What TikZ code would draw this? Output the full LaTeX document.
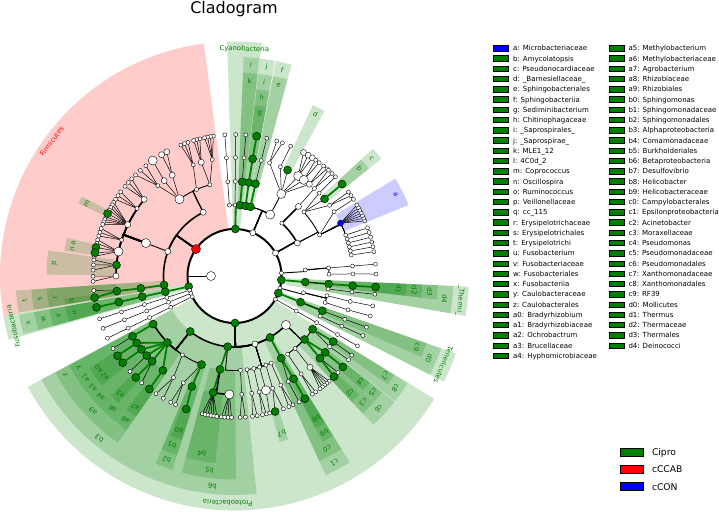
\documentclass[tikz,border=0pt]{standalone}
\usepackage{fontspec}
\setmainfont{DejaVu Sans}
\usetikzlibrary{calc}
\definecolor{cipro}{RGB}{0,128,0}
\definecolor{ccab}{RGB}{255,0,0}
\definecolor{ccon}{RGB}{0,0,255}
\pgfdeclarelayer{bands}
\pgfdeclarelayer{edges}
\pgfsetlayers{bands,edges,main}
\tikzset{
  dot/.style={circle,draw=black,line width=0.4pt,inner sep=0pt},
  wn/.style={dot,fill=white,minimum size=4pt},
  wm/.style={dot,fill=white,minimum size=6pt},
  wl/.style={dot,fill=white,minimum size=9pt},
  gn/.style={dot,fill=cipro,minimum size=8pt},
  rn/.style={dot,fill=ccab,minimum size=9pt},
  bn/.style={dot,fill=ccon,minimum size=6pt},
  lw1/.style={draw=black,line width=0.5pt},
  lw2/.style={draw=black,line width=0.9pt},
  lw3/.style={draw=black,line width=1.6pt},
  glk/.style={draw=cipro,line width=1.8pt},
  tag/.style={font=\fontsize{6.8}{7}\selectfont,inner sep=0pt},
  key/.style={font=\fontsize{7}{8}\selectfont,inner sep=0pt,anchor=base west},
  bigkey/.style={font=\fontsize{9.2}{10}\selectfont,inner sep=0pt,anchor=base west},
  swatch/.style={draw=black,line width=0.7pt},
}
% node at (angle:radius), radius in pixels
\newcommand{\clade}[4]{\node[#4] (#1) at (#2:#3) {};}
\newcommand{\twig}[3][lw1]{\draw[#1] (#2) -- (#3);}
% radial step out to the child's ring, then along the ring
\newcommand{\bough}[3][lw2]{\draw[#1] let \p1=(#2.center),\p2=(#3.center),
  \n1={atan2(\y1,\x1)},\n2={atan2(\y2,\x2)},\n3={veclen(\x2,\y2)},
  \n4={\n1+mod(\n2-\n1+540,360)-180} in
  (#2.center) -- (\n1:\n3) arc[start angle=\n1,end angle=\n4,radius=\n3];}
\newcommand{\leaves}[3]{\foreach \a [count=\i] in {#2}{\clade{#1-\i}{\a}{141.5}{#3}
  \begin{pgfonlayer}{edges}\twig{#1}{#1-\i}\end{pgfonlayer}}}
\newcommand{\band}[5]{\fill[#5,fill opacity=0.2] (#1:#3) arc[start angle=#1,end angle=#2,radius=#3pt]
  -- (#2:#4) arc[start angle=#2,end angle=#1,radius=#4pt] -- cycle;}
\newcommand{\tagit}[5]{\node[tag,text=#5,rotate=#2-90] (#1) at (#2:#3) {#4};}

\begin{document}
\begin{tikzpicture}[x=1pt,y=1pt]
\useasboundingbox (-234.5,-235) rectangle (484.5,276);

\node[font=\fontsize{16}{18}\selectfont,anchor=base] (title) at (-0.5,262) {Cladogram};

% highlighted clades
\begin{pgfonlayer}{bands}
\band{97.5}{189.8}{47}{234.5}{ccab}
\band{152.5}{155.1}{141.5}{172}{cipro}
\band{167.2}{169.4}{141.5}{172}{cipro}
\band{169.4}{171.6}{141.5}{172}{cipro}
\band{172.2}{179.6}{118.5}{188}{cipro}
\band{183.8}{189.6}{71}{219}{cipro}
\band{183.8}{189.6}{94.5}{203.5}{cipro}
\band{183.8}{189.6}{118.5}{188}{cipro}
\band{187.6}{189.6}{141.5}{172}{cipro}
\band{189.8}{195.8}{47}{234.5}{cipro}
\band{190.2}{195.4}{71}{219}{cipro}
\band{190.2}{195.4}{94.5}{203.5}{cipro}
\band{190.2}{195.4}{118.5}{188}{cipro}
\band{190.2}{195.4}{141.5}{172}{cipro}
\band{83.3}{91.8}{47}{234.5}{cipro}
\band{83.5}{87.6}{71}{219}{cipro}
\band{83.5}{87.6}{94.5}{203.5}{cipro}
\band{79.3}{83.3}{71}{219}{cipro}
\band{79.3}{83.3}{94.5}{203.5}{cipro}
\band{79.3}{83.3}{118.5}{188}{cipro}
\band{79.3}{83.3}{141.5}{172}{cipro}
\band{74.9}{79.1}{71}{219}{cipro}
\band{74.9}{79.1}{94.5}{203.5}{cipro}
\band{61.4}{65.4}{118.5}{188}{cipro}
\band{38.6}{42.6}{118.5}{188}{cipro}
\band{38.6}{42.6}{141.5}{172}{cipro}
\band{22.2}{31.2}{118.5}{188}{ccon}
\band{-9.8}{-2.6}{47}{234.5}{cipro}
\band{-9.8}{-2.6}{71}{219}{cipro}
\band{-6.6}{-2.6}{94.5}{203.5}{cipro}
\band{-6.6}{-2.6}{118.5}{188}{cipro}
\band{-6.6}{-2.6}{141.5}{172}{cipro}
\band{-26.8}{-19.3}{47}{234.5}{cipro}
\band{-26.8}{-19.3}{71}{219}{cipro}
\band{-23.4}{-19.3}{94.5}{203.5}{cipro}
\band{-151.8}{-31.6}{47}{234.5}{cipro}
\band{-151.8}{-107.8}{71}{219}{cipro}
\band{-151.6}{-147.6}{94.5}{203.5}{cipro}
\band{-151.6}{-147.6}{118.5}{188}{cipro}
\band{-147.6}{-125}{94.5}{203.5}{cipro}
\band{-147.6}{-143.7}{118.5}{188}{cipro}
\band{-147.6}{-143.7}{141.5}{172}{cipro}
\band{-143.7}{-139.8}{118.5}{188}{cipro}
\band{-143.7}{-140.5}{141.5}{172}{cipro}
\band{-139.8}{-135.9}{118.5}{188}{cipro}
\band{-135.9}{-129.4}{118.5}{188}{cipro}
\band{-135.9}{-132.4}{141.5}{172}{cipro}
\band{-129.2}{-125}{118.5}{188}{cipro}
\band{-129.2}{-125}{141.5}{172}{cipro}
\band{-112.8}{-107.8}{94.5}{203.5}{cipro}
\band{-112.8}{-107.8}{118.5}{188}{cipro}
\band{-111.8}{-107.8}{141.5}{172}{cipro}
\band{-107.8}{-84.2}{71}{219}{cipro}
\band{-105}{-89.6}{94.5}{203.5}{cipro}
\band{-105}{-95.8}{118.5}{188}{cipro}
\band{-74.8}{-71.8}{141.5}{172}{cipro}
\band{-65.4}{-58.3}{71}{219}{cipro}
\band{-65.4}{-58.3}{94.5}{203.5}{cipro}
\band{-62}{-58.3}{118.5}{188}{cipro}
\band{-62}{-58.3}{141.5}{172}{cipro}
\band{-37.9}{-31.8}{94.5}{203.5}{cipro}
\band{-35.3}{-31.8}{118.5}{188}{cipro}
\band{-47}{-38.2}{94.5}{203.5}{cipro}
\band{-41.8}{-38.2}{118.5}{188}{cipro}
\band{-41.8}{-38.2}{141.5}{172}{cipro}
\band{-47}{-42}{118.5}{188}{cipro}
\band{-47}{-43.6}{141.5}{172}{cipro}
\end{pgfonlayer}

% Firmicutes
\clade{fi}{145}{47}{rn}
\clade{baci}{116.2}{71}{wm}
\clade{clos}{159.8}{71}{wm}
\clade{Lt}{187.3}{71}{gn}
\clade{Ls}{187.5}{94.5}{gn}
\clade{Lr}{187.3}{118.5}{gn}
\clade{Lq}{188.8}{141.5}{gn}
\clade{rx}{185.9}{141.5}{wn}
\clade{bo1}{105.1}{94.5}{wn}
\clade{bo2}{113.7}{94.5}{wn}
\clade{bo3}{125.6}{94.5}{wl}
\clade{bf1}{100.8}{118.5}{wn}
\clade{bf2}{106.3}{118.5}{wm}
\clade{bf3}{110.4}{118.5}{wn}
\clade{bf4}{121.7}{118.5}{wm}
\clade{bf5}{126.4}{118.5}{wm}
\clade{bf6}{130.3}{118.5}{wn}
\leaves{bf1}{98.6,99.8,101,102.2}{wn}
\leaves{bf2}{104.2,105.5,106.8}{wn}
\leaves{bf3}{109.2,110.7,112.3}{wn}
\leaves{bf4}{118.6,121}{wm}
\leaves{bf5}{125.3}{wl}
\leaves{bf6}{128.8,131.7,134.4}{wn}
\clade{co1}{159.6}{94.5}{wl}
\clade{cf1}{139.7}{118.5}{wm}
\clade{cf2}{145.3}{118.5}{wn}
\clade{cf3}{154.3}{118.5}{wm}
\clade{cf4}{162.3}{118.5}{wn}
\clade{cf5}{168.1}{118.5}{wl}
\clade{Lp}{174.7}{118.5}{gn}
\clade{cf6}{180}{118.5}{wm}
\leaves{cf1}{136.6,138.6,140.7}{wn}
\leaves{cf2}{143.5,145.4,147.2}{wn}
\leaves{cf3}{148.6,149.8,151,152.2,155.3,156.4,157.5,158.6}{wn}
\clade{Lm}{153.8}{141.5}{gn}
\leaves{cf4}{160.4,162,163.6}{wn}
\leaves{cf5}{165.2,166.6,172}{wn}
\clade{Lo}{168.3}{141.5}{gn}
\clade{Ln}{170.5}{141.5}{gn}
\leaves{Lp}{173.5,175.5,177.6}{wn}
\leaves{cf6}{180.1,182.2}{wn}

% Fusobacteria
\clade{fu}{193}{47}{gn}
\clade{Lx}{192.8}{71}{gn}
\clade{Lw}{192.7}{94.5}{gn}
\clade{Lv}{192.7}{118.5}{gn}
\clade{Lu}{192.8}{141.5}{gn}

% small phyla with one lineage
\foreach \nm/\ang in {pa/197.6,pb/201.7,pc/206.1,pd/-29.6}{
  \clade{\nm1}{\ang}{47}{wn}\clade{\nm2}{\ang}{71}{wn}\clade{\nm3}{\ang}{94.5}{wn}
  \clade{\nm4}{\ang}{118.5}{wn}\clade{\nm5}{\ang}{141.5}{wn}}
\clade{inn}{180}{23.5}{wl}
\coordinate (innc) at (180:47);

% Cyanobacteria
\clade{cy}{89}{47}{gn}
\clade{cy1}{94.2}{71}{wn}\clade{cy1b}{94.1}{94.5}{wn}\clade{cy1c}{93.9}{118.5}{wn}\clade{cy1d}{93.9}{141.5}{wn}
\clade{cy2}{89.5}{71}{wn}\clade{cy2b}{89.5}{94.5}{wn}\clade{cy2c}{89.5}{118.5}{wn}\clade{cy2d}{89.5}{141.5}{wn}
\clade{Ll}{85.5}{71}{gn}\clade{Lk}{85.3}{94.5}{gn}\clade{k3}{85.4}{118.5}{wn}\clade{k4}{85.4}{141.5}{wn}

% Bacteroidetes
\clade{bac}{67}{47}{wm}
\clade{Lj}{81}{71}{gn}\clade{Li}{81.3}{94.5}{gn}\clade{Lh}{81.2}{118.5}{gn}\clade{Lg}{81}{141.5}{gn}
\clade{Lf}{77}{71}{gn}\clade{Le}{77.2}{94.5}{gn}\clade{e3}{77}{118.5}{wn}\clade{e4}{76.8}{141.5}{wn}
\clade{bcd}{59.8}{71}{wl}
\clade{bdo}{60.3}{94.5}{wl}
\clade{bdf1}{72.8}{118.5}{wn}
\clade{bdf2}{67.2}{118.5}{wn}
\clade{Ld}{63.4}{118.5}{gn}
\clade{bdf3}{57.5}{118.5}{wl}
\clade{bdf4}{54.2}{118.5}{wl}
\clade{bdf5}{50.8}{118.5}{wm}
\leaves{bdf1}{72.6,70.2}{wn}
\leaves{bdf2}{66.6}{wn}
\leaves{bdf3}{60.8,58.6,56.6}{wm}
\leaves{bdf4}{55,53.2}{wn}
\leaves{bdf5}{51,49.2}{wn}

% Actinobacteria
\clade{act}{29.3}{47}{wm}
\clade{ac1}{27.7}{71}{wm}
\clade{ac2}{48.1}{71}{wn}
\clade{ao4}{47.4}{94.5}{wm}
\clade{af0}{47.6}{118.5}{wn}
\leaves{af0}{48.4,46.4}{wn}
\clade{ao1}{42.7}{94.5}{wn}
\clade{ao2}{25.8}{94.5}{wn}
\clade{Lc}{40.6}{118.5}{gn}
\clade{Lb}{40.5}{141.5}{gn}
\clade{af1}{36.6}{118.5}{wn}
\clade{af2}{44.4}{118.5}{wn}
\leaves{af1}{36.4,34.6}{wn}
\leaves{af2}{44.5}{wn}
\clade{La}{26.5}{118.5}{bn}
\leaves{La}{22.9,24.1,25.3,26.5,27.7,28.9,30.1}{wn}
\clade{af3}{32.8}{118.5}{wn}
\leaves{af3}{32.8}{wn}
\foreach \ang [count=\i] in {20.2,18.2,16.2,14.2,12.2,10.2}{
  \clade{cm\i}{\ang}{118.5}{wn}\clade{cg\i}{\ang-0.3}{141.5}{wn}}

% phylum near 0 degrees
\clade{ph2}{3.6}{47}{wn}
\clade{p2c}{4.9}{71}{wn}
\clade{p2o1}{4.9}{94.5}{wn}\clade{p2f1}{4.8}{118.5}{wn}\clade{p2g1}{4.8}{141.5}{wn}
\clade{p2o2}{1.1}{94.5}{wn}\clade{p2f2}{1}{118.5}{wn}\clade{p2g2}{0.8}{141.5}{wn}

% Thermi
\clade{th}{-4.9}{47}{gn}
\clade{Ld4}{-4.9}{71}{gn}\clade{Ld3}{-4.9}{94.5}{gn}\clade{Ld2}{-4.7}{118.5}{gn}\clade{Ld1}{-4.5}{141.5}{gn}
\clade{tho}{-7.9}{94.5}{wn}\clade{thf}{-7.7}{118.5}{wn}\clade{thg}{-7.4}{141.5}{wn}

\clade{ph3}{-15}{47}{wn}
\clade{p3c}{-13.6}{71}{wn}
\clade{p3o1}{-12}{94.5}{wn}\clade{p3f1}{-12.4}{118.5}{wn}\clade{p3g1}{-12.2}{141.5}{wn}
\clade{p3o2}{-16.3}{94.5}{wn}\clade{p3f2}{-16.6}{118.5}{wn}\clade{p3g2}{-16.4}{141.5}{wn}

% Tenericutes
\clade{te}{-21.3}{47}{gn}
\clade{Ld0}{-21.6}{71}{gn}\clade{Lc9}{-21.6}{94.5}{gn}\clade{tef}{-21.4}{118.5}{wn}\clade{teg}{-21.2}{141.5}{wn}
\clade{teo}{-25.1}{94.5}{wn}\clade{tef2}{-25}{118.5}{wn}\clade{teg2}{-24.9}{141.5}{wn}

% Proteobacteria
\clade{pr}{-89.4}{47}{gn}
\clade{Lb3}{-128.6}{71}{gn}
\clade{Lb6}{-95.5}{71}{gn}
\clade{del}{-73.2}{71}{wm}
\clade{Lc1}{-59.9}{71}{gn}
\clade{gam}{-43.6}{71}{wl}
\clade{Lz}{-149.4}{94.5}{gn}\clade{Ly}{-149.4}{118.5}{gn}\clade{yl}{-149.2}{141.5}{wn}
\clade{La9}{-135.2}{94.5}{gn}
\clade{La1}{-145.6}{118.5}{gn}\clade{La0}{-145.7}{141.5}{gn}
\clade{La3}{-141.7}{118.5}{gn}\clade{La2}{-142.2}{141.5}{gn}
\clade{La4}{-137.8}{118.5}{gn}\clade{a4l}{-137.6}{141.5}{wn}
\clade{La6}{-134}{118.5}{gn}\clade{La5}{-134.2}{141.5}{gn}\clade{a6l}{-131}{141.5}{wn}
\clade{La8}{-127.2}{118.5}{gn}\clade{La7}{-127}{141.5}{gn}
\clade{ao3}{-123.5}{94.5}{wn}\clade{af5}{-121}{118.5}{wn}
\leaves{af5}{-123.7,-120.2}{wn}
\clade{Lb2}{-110.4}{94.5}{gn}\clade{Lb1}{-111.1}{118.5}{gn}\clade{Lb0}{-110}{141.5}{gn}
\clade{af6}{-115.6}{118.5}{wn}
\leaves{af6}{-114.6,-116.8}{wn}
\clade{Lb5}{-98.8}{94.5}{gn}
\clade{Lb4}{-100.4}{118.5}{gn}
\leaves{Lb4}{-103.2,-102,-100.8,-99.6,-98.4,-97.2}{wn}
\clade{bf7}{-92.5}{118.5}{wl}
\leaves{bf7}{-95.4,-94,-92.6,-91.2}{wn}
\clade{bo4}{-86.4}{94.5}{wn}\clade{bf8}{-86.5}{118.5}{wn}
\leaves{bf8}{-87.7,-85.6}{wn}
\clade{do1}{-82.4}{94.5}{wn}\clade{df1}{-81.6}{118.5}{wn}
\leaves{df1}{-82.7,-80.8}{wn}
\clade{do2}{-78.2}{94.5}{wn}\clade{df2}{-78}{118.5}{wn}
\leaves{df2}{-78.6,-77}{wn}
\clade{do3}{-74.6}{94.5}{wn}\clade{df3}{-74.6}{118.5}{wl}
\leaves{df3}{-75.6}{wn}
\clade{do4}{-70.6}{94.5}{wn}\clade{df4}{-71.2}{118.5}{wn}
\clade{Lb7}{-73.3}{141.5}{gn}
\leaves{df4}{-69.8}{wn}
\clade{do5}{-67.2}{94.5}{wn}\clade{df5}{-67}{118.5}{wn}
\leaves{df5}{-67.4,-65.6}{wn}
\clade{Lc0}{-60.4}{94.5}{gn}\clade{Lb9}{-60.1}{118.5}{gn}\clade{Lb8}{-60.2}{141.5}{gn}
\clade{ef5}{-63}{118.5}{wn}\clade{ef6}{-62.8}{141.5}{wn}
\clade{Lc8}{-34.3}{94.5}{gn}
\clade{Lc7}{-33.6}{118.5}{gn}\clade{c7l}{-34}{141.5}{wn}
\clade{gf1}{-36.6}{118.5}{wn}\clade{gf1l}{-36.3}{141.5}{wn}
\clade{Lc6}{-42.2}{94.5}{gn}
\clade{Lc5}{-40.1}{118.5}{gn}\clade{Lc4}{-40}{141.5}{gn}
\clade{Lc3}{-43.9}{118.5}{gn}\clade{Lc2}{-45.3}{141.5}{gn}\clade{c3l}{-43}{141.5}{wn}
\clade{go3}{-50.1}{94.5}{wn}\clade{gf2}{-50.4}{118.5}{wm}
\leaves{gf2}{-48,-49.2,-50.4,-51.6,-52.8}{wn}
\clade{go4}{-55.8}{94.5}{wn}\clade{gf3}{-55.8}{118.5}{wn}
\leaves{gf3}{-55,-56.6}{wn}

% branches
\begin{pgfonlayer}{edges}
\draw[draw=black,line width=2pt] (0,0) circle[radius=47pt];
\bough[lw3]{fi}{baci}\bough[lw3]{fi}{clos}\bough[lw3]{fi}{Lt}
\bough{baci}{bo1}\bough{baci}{bo2}\bough{baci}{bo3}
\twig{bo1}{bf1}\twig{bo1}{bf2}\twig{bo2}{bf3}\twig{bo3}{bf4}\twig{bo3}{bf5}\twig{bo3}{bf6}
\twig[lw2]{clos}{co1}
\bough[lw3]{co1}{cf1}\bough[lw3]{co1}{cf2}\bough[lw3]{co1}{cf3}\bough[lw3]{co1}{cf4}
\bough[lw3]{co1}{cf5}\bough[lw3]{co1}{Lp}\bough[lw3]{co1}{cf6}
\twig{cf3}{Lm}\twig{cf5}{Lo}\twig{cf5}{Ln}
\twig[glk]{Lt}{Ls}\twig[glk]{Ls}{Lr}\twig[glk]{Lr}{Lq}\twig{Lr}{rx}
\twig[glk]{fu}{Lx}\twig[glk]{Lx}{Lw}\twig[glk]{Lw}{Lv}\twig[glk]{Lv}{Lu}
\foreach \nm in {pa,pb,pc,pd}{\twig{\nm1}{\nm2}\twig{\nm2}{\nm3}\twig{\nm3}{\nm4}\twig{\nm4}{\nm5}}
\twig{innc}{inn}
\bough{cy}{cy1}\bough{cy}{cy2}\bough[glk]{cy}{Ll}
\twig{cy1}{cy1b}\twig{cy1b}{cy1c}\twig{cy1c}{cy1d}
\twig{cy2}{cy2b}\twig{cy2b}{cy2c}\twig{cy2c}{cy2d}
\twig[glk]{Ll}{Lk}\twig{Lk}{k3}\twig{k3}{k4}
\bough{bac}{Lj}\bough{bac}{Lf}\bough[lw3]{bac}{bcd}
\twig[glk]{Lj}{Li}\twig[glk]{Li}{Lh}\twig[glk]{Lh}{Lg}
\twig[glk]{Lf}{Le}\twig{Le}{e3}\twig{e3}{e4}
\twig[lw2]{bcd}{bdo}
\twig{bdo}{bdf1}\twig{bdo}{bdf2}\twig{bdo}{Ld}\twig{bdo}{bdf3}\twig{bdo}{bdf4}\twig{bdo}{bdf5}
\bough{act}{ac1}\bough[lw3]{act}{ac2}
\twig[lw3]{ac2}{ao4}\twig{ao4}{af0}
\bough{ac1}{ao1}\bough{ac1}{ao2}
\twig{ao1}{Lc}\twig[glk]{Lc}{Lb}\twig{ao1}{af1}\twig{ao1}{af2}
\twig{ao2}{La}\twig{ao2}{af3}
\foreach \i in {1,...,6}{\bough[lw1]{ao2}{cm\i}\twig{cm\i}{cg\i}}
\bough{ph2}{p2c}\bough{p2c}{p2o1}\bough{p2c}{p2o2}
\twig{p2o1}{p2f1}\twig{p2f1}{p2g1}\twig{p2o2}{p2f2}\twig{p2f2}{p2g2}
\twig[glk]{th}{Ld4}\twig[glk]{Ld4}{Ld3}\twig[glk]{Ld3}{Ld2}\twig[glk]{Ld2}{Ld1}
\bough[lw1]{Ld4}{tho}\twig{tho}{thf}\twig{thf}{thg}
\bough{ph3}{p3c}\bough{p3c}{p3o1}\bough{p3c}{p3o2}
\twig{p3o1}{p3f1}\twig{p3f1}{p3g1}\twig{p3o2}{p3f2}\twig{p3f2}{p3g2}
\twig[glk]{te}{Ld0}\twig[glk]{Ld0}{Lc9}\twig{Lc9}{tef}\twig{tef}{teg}
\bough[lw1]{Ld0}{teo}\twig{teo}{tef2}\twig{tef2}{teg2}
\bough[lw3]{pr}{Lb3}\bough[lw3]{pr}{Lb6}\bough[lw3]{pr}{del}\bough[lw3]{pr}{Lc1}\bough[lw3]{pr}{gam}
\bough[lw3]{Lb3}{Lz}\bough[lw3]{Lb3}{La9}\bough{Lb3}{ao3}\bough{Lb3}{Lb2}
\twig[glk]{Lz}{Ly}\twig{Ly}{yl}
\twig[glk]{La9}{La1}\twig[glk]{La9}{La3}\twig[glk]{La9}{La4}\twig[glk]{La9}{La6}\twig[glk]{La9}{La8}
\twig[glk]{La1}{La0}\twig[glk]{La3}{La2}\twig{La4}{a4l}\twig[glk]{La6}{La5}\twig{La6}{a6l}\twig[glk]{La8}{La7}
\twig{ao3}{af5}
\twig[glk]{Lb2}{Lb1}\twig[glk]{Lb1}{Lb0}\twig{Lb2}{af6}
\twig[glk]{Lb6}{Lb5}\bough{Lb6}{bo4}
\twig[glk]{Lb5}{Lb4}\bough[lw3]{Lb5}{bf7}
\twig{bo4}{bf8}
\bough{del}{do1}\bough{del}{do2}\bough{del}{do3}\bough{del}{do4}\bough{del}{do5}
\twig{do1}{df1}\twig{do2}{df2}\twig{do3}{df3}\twig{do4}{df4}\twig{do5}{df5}
\twig{df4}{Lb7}
\twig[glk]{Lc1}{Lc0}\twig[glk]{Lc0}{Lb9}\twig[glk]{Lb9}{Lb8}\twig{Lc0}{ef5}\twig{ef5}{ef6}
\bough{gam}{Lc8}\bough{gam}{Lc6}\bough{gam}{go3}\bough{gam}{go4}
\twig[glk]{Lc8}{Lc7}\twig{Lc7}{c7l}\twig{Lc8}{gf1}\twig{gf1}{gf1l}
\twig[glk]{Lc6}{Lc5}\twig[glk]{Lc5}{Lc4}\twig[glk]{Lc6}{Lc3}\twig[glk]{Lc3}{Lc2}\twig{Lc3}{c3l}
\twig{go3}{gf2}\twig{go4}{gf3}
\end{pgfonlayer}

% clade labels
\tagit{tFir}{143.6}{227}{Firmicutes}{ccab}
\tagit{tCya}{87.5}{227}{Cyanobacteria}{cipro}
\tagit{tFus}{192.8}{227}{Fusobacteria}{cipro}
\tagit{tThe}{-6.2}{227}{\_Thermi\_}{cipro}
\tagit{tTen}{-23}{227}{Tenericutes}{cipro}
\tagit{tPro}{-91.7}{227}{Proteobacteria}{cipro}
\tagit{tl}{85.5}{211.5}{l}{cipro}
\tagit{tk}{85.5}{196}{k}{cipro}
\tagit{tj}{81.3}{211.5}{j}{cipro}
\tagit{ti}{81.3}{196}{i}{cipro}
\tagit{th}{81.3}{180.5}{h}{cipro}
\tagit{tg}{81.3}{164.5}{g}{cipro}
\tagit{tf}{77}{211.5}{f}{cipro}
\tagit{te}{77}{196}{e}{cipro}
\tagit{td}{63.4}{180.5}{d}{cipro}
\tagit{tc}{40.6}{180.5}{c}{cipro}
\tagit{tb}{40.6}{164.5}{b}{cipro}
\tagit{ta}{26.7}{180.5}{a}{ccon}
\tagit{td4}{-6.2}{211.5}{d4}{cipro}
\tagit{td3}{-4.6}{196}{d3}{cipro}
\tagit{td2}{-4.6}{180.5}{d2}{cipro}
\tagit{td1}{-4.6}{164.5}{d1}{cipro}
\tagit{td0}{-23}{211.5}{d0}{cipro}
\tagit{tc9}{-21.4}{196}{c9}{cipro}
\tagit{tb3}{-129.8}{211.5}{b3}{cipro}
\tagit{tz}{-149.6}{196}{z}{cipro}
\tagit{ty}{-149.6}{180.5}{y}{cipro}
\tagit{ta9}{-136.3}{196}{a9}{cipro}
\tagit{ta1}{-145.6}{180.5}{a1}{cipro}
\tagit{ta0}{-145.6}{164.5}{a0}{cipro}
\tagit{ta3}{-141.7}{180.5}{a3}{cipro}
\tagit{ta2}{-142.1}{164.5}{a2}{cipro}
\tagit{ta4}{-137.8}{180.5}{a4}{cipro}
\tagit{ta6}{-132.6}{180.5}{a6}{cipro}
\tagit{ta5}{-134.1}{164.5}{a5}{cipro}
\tagit{ta8}{-127.1}{180.5}{a8}{cipro}
\tagit{ta7}{-127.1}{164.5}{a7}{cipro}
\tagit{tb2}{-110.3}{196}{b2}{cipro}
\tagit{tb1}{-110.3}{180.5}{b1}{cipro}
\tagit{tb0}{-109.8}{164.5}{b0}{cipro}
\tagit{tb6}{-96}{211.5}{b6}{cipro}
\tagit{tb5}{-97.3}{196}{b5}{cipro}
\tagit{tb4}{-100.4}{180.5}{b4}{cipro}
\tagit{tb7}{-73.3}{164.5}{b7}{cipro}
\tagit{tc1}{-61.8}{211.5}{c1}{cipro}
\tagit{tc0}{-61.8}{196}{c0}{cipro}
\tagit{tb9}{-60.1}{180.5}{b9}{cipro}
\tagit{tb8}{-60.1}{164.5}{b8}{cipro}
\tagit{tc8}{-34.8}{196}{c8}{cipro}
\tagit{tc7}{-33.5}{180.5}{c7}{cipro}
\tagit{tc6}{-42.6}{196}{c6}{cipro}
\tagit{tc5}{-40}{180.5}{c5}{cipro}
\tagit{tc4}{-40}{164.5}{c4}{cipro}
\tagit{tc3}{-44.5}{180.5}{c3}{cipro}
\tagit{tc2}{-45.3}{164.5}{c2}{cipro}
\tagit{tx}{192.8}{211.5}{x}{cipro}
\tagit{tw}{192.8}{196}{w}{cipro}
\tagit{tv}{192.8}{180.5}{v}{cipro}
\tagit{tu}{192.8}{164.5}{u}{cipro}
\tagit{tt}{186.7}{211.5}{t}{cipro}
\tagit{ts}{186.7}{196}{s}{cipro}
\tagit{tr}{186.7}{180.5}{r}{cipro}
\tagit{tq}{188.6}{164.5}{q}{cipro}
\tagit{tp}{175.9}{180.5}{p}{cipro}
\tagit{to}{168.3}{164.5}{o}{cipro}
\tagit{tn}{170.5}{164.5}{n}{cipro}
\tagit{tm}{153.8}{164.5}{m}{cipro}

% legend
\foreach \t [count=\i from 0] in {a: Microbacteriaceae,b: Amycolatopsis,c: Pseudonocardiaceae,%
d: \_Barnesiellaceae\_,e: Sphingobacteriales,f: Sphingobacteriia,g: Sediminibacterium,%
h: Chitinophagaceae,i: \_Saprospirales\_,j: \_Saprospirae\_,k: MLE1\_12,l: 4C0d\_2,%
m: Coprococcus,n: Oscillospira,o: Ruminococcus,p: Veillonellaceae,q: cc\_115,%
r: Erysipelotrichaceae,s: Erysipelotrichales,t: Erysipelotrichi,u: Fusobacterium,%
v: Fusobacteriaceae,w: Fusobacteriales,x: Fusobacteriia,y: Caulobacteraceae,%
z: Caulobacterales,a0: Bradyrhizobium,a1: Bradyrhizobiaceae,a2: Ochrobactrum,%
a3: Brucellaceae,a4: Hyphomicrobiaceae}{
  \draw[swatch,fill=cipro] (258.8,225-10.25*\i) rectangle ++(15.4,5.4);
  \node[key] (ka\i) at (278.5,225.2-10.25*\i) {\t};}
\draw[swatch,fill=ccon] (258.8,225) rectangle ++(15.4,5.4);
\foreach \t [count=\i from 0] in {a5: Methylobacterium,a6: Methylobacteriaceae,a7: Agrobacterium,%
a8: Rhizobiaceae,a9: Rhizobiales,b0: Sphingomonas,b1: Sphingomonadaceae,%
b2: Sphingomonadales,b3: Alphaproteobacteria,b4: Comamonadaceae,b5: Burkholderiales,%
b6: Betaproteobacteria,b7: Desulfovibrio,b8: Helicobacter,b9: Helicobacteraceae,%
c0: Campylobacterales,c1: Epsilonproteobacteria,c2: Acinetobacter,c3: Moraxellaceae,%
c4: Pseudomonas,c5: Pseudomonadaceae,c6: Pseudomonadales,c7: Xanthomonadaceae,%
c8: Xanthomonadales,c9: RF39,d0: Mollicutes,d1: Thermus,d2: Thermaceae,%
d3: Thermales,d4: Deinococci}{
  \draw[swatch,fill=cipro] (374.8,225-10.25*\i) rectangle ++(15,5.4);
  \node[key] (kb\i) at (393.8,225.2-10.25*\i) {\t};}

\draw[swatch,fill=cipro] (385.5,-180.3) rectangle ++(23.3,8);
\node[bigkey] (kcipro) at (417.3,-179.7) {Cipro};
\draw[swatch,fill=ccab] (385.5,-197.3) rectangle ++(23.3,8);
\node[bigkey] (kccab) at (417.3,-196.7) {cCCAB};
\draw[swatch,fill=ccon] (385.5,-214.7) rectangle ++(23.3,8);
\node[bigkey] (kccon) at (417.3,-214.1) {cCON};
\end{tikzpicture}
\end{document}
